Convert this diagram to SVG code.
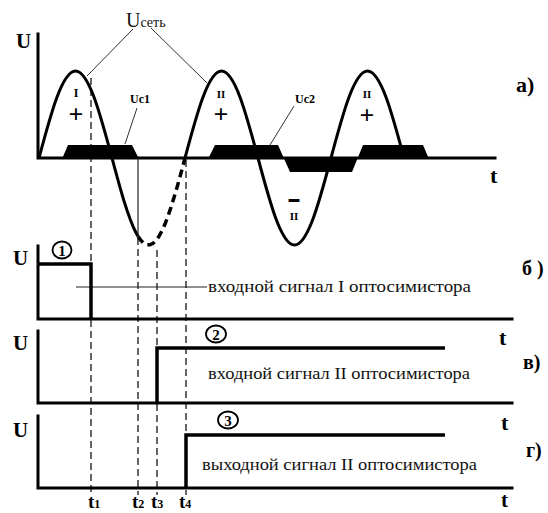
<svg xmlns="http://www.w3.org/2000/svg" width="548" height="513" viewBox="0 0 548 513">
<style>
.ax{fill:none;stroke:#000;stroke-width:3;stroke-linecap:square}
.sig{fill:none;stroke:#000;stroke-width:3.5;stroke-linejoin:miter}
.wave{fill:none;stroke:#000;stroke-width:3}
.dash{fill:none;stroke:#000;stroke-width:3.5;stroke-dasharray:8 5}
.vd{fill:none;stroke:#000;stroke-width:1.2;stroke-dasharray:7 4}
.thin{fill:none;stroke:#222;stroke-width:1.2}
.lead{fill:none;stroke:#333;stroke-width:1}
.band{fill:#000;stroke:none}
.b{font-family:"Liberation Serif","Times New Roman",serif;font-weight:bold;fill:#000}
.r{font-family:"Liberation Serif","Times New Roman",serif;fill:#111}
.circ{fill:none;stroke:#000;stroke-width:1.8}
</style>

<g id="panel-a">
  <path class="ax" d="M38,34 V158 H495"/>
  <text class="b" x="16" y="48" font-size="21">U</text>
  <text class="b" x="490" y="183" font-size="22">t</text>
  <text class="b" x="516" y="92" font-size="22">а)</text>
</g>

<g id="bands">
  <path class="band" d="M62,159 L68,145 L132,145 L139,159 Z"/>
  <path class="band" d="M208,159 L215,145 L278,145 L290,172 L352,172 L363,145 L423,145 L429,159 Z"/>
</g>

<g id="wave">
  <path class="wave" d="M39,158 C50.9,113.4 62.3,71 75.5,71 C88.7,71 100.1,113.4 112,158"/>
  <polyline class="wave" points="112,158 115,169.2 118,180.2 121,190.9 124,201 127,210.3 130,218.8 133,226.3 136,232.7 138,236.3"/>
  <polyline class="dash" points="138,236.3 141,240.5 144,243.4 147,244.8 150,244.8 153,243.4 156,240.5 159,236.3 162,230.7 165,224 168,216.1 171,207.3 174,197.6 177,187.4 180,176.7 183,165.5 185,158"/>
  <path class="wave" d="M185,158 C196.9,113.4 208.3,71 221.5,71 C234.7,71 246.1,113.4 258,158 C269.9,202.6 281.3,245 294.5,245 C307.7,245 319.1,202.6 331,158 C342.9,113.4 354.3,71 367.5,71 C380.7,71 392.1,113.4 404,158"/>
</g>

<g id="wave-labels">
  <text class="b" x="76" y="97" font-size="12" text-anchor="middle">I</text>
  <text class="b" x="76" y="123" font-size="26" text-anchor="middle">+</text>
  <text class="b" x="221" y="98" font-size="11" text-anchor="middle">II</text>
  <text class="b" x="221" y="123" font-size="26" text-anchor="middle">+</text>
  <text class="b" x="367" y="98" font-size="11" text-anchor="middle">II</text>
  <text class="b" x="367" y="124" font-size="26" text-anchor="middle">+</text>
  <text class="b" x="294" y="205" font-size="18" text-anchor="middle" stroke="#000" stroke-width="1.6">–</text>
  <text class="b" x="294" y="220" font-size="11" text-anchor="middle">II</text>
</g>

<g id="label-ucet">
  <text class="r" x="126" y="27" font-size="20" fill="#333">U<tspan font-size="14">сеть</tspan></text>
  <path class="lead" d="M133,29 L87,76 M151,28 L207,83"/>
</g>
<g id="label-uc1">
  <text class="b" x="130" y="103" font-size="12" fill="#222">Uc1</text>
  <path class="lead" d="M137,108 L125,144"/>
</g>
<g id="label-uc2">
  <text class="b" x="295" y="103" font-size="12" fill="#222">Uc2</text>
  <path class="lead" d="M294,106 L270,145"/>
</g>

<g id="connectors">
  <path class="vd" d="M91,78 V495"/>
  <path class="thin" d="M138,158 V238"/>
  <path class="vd" d="M138,238 V495"/>
  <path class="vd" d="M157,250 V495"/>
  <path class="vd" d="M186,160 V495"/>
  <path class="thin" d="M76,287 H207"/>
</g>

<g id="panel-b">
  <path class="ax" d="M38,246 V319 H512"/>
  <path class="sig" d="M38,264 H91 V319"/>
  <text class="b" x="13" y="265" font-size="21">U</text>
  <ellipse class="circ" cx="62" cy="250" rx="9.5" ry="8.5"/>
  <text class="b" x="62" y="255.5" font-size="15" text-anchor="middle">1</text>
  <text class="r" x="208" y="292" font-size="17" textLength="263" lengthAdjust="spacingAndGlyphs">входной сигнал I оптосимистора</text>
  <text class="b" x="499" y="345" font-size="22">t</text>
  <text class="b" x="522" y="275" font-size="20">б )</text>
</g>

<g id="panel-v">
  <path class="ax" d="M38,331 V403 H512"/>
  <path class="sig" d="M157,403 V348 H445"/>
  <text class="b" x="13" y="350" font-size="21">U</text>
  <ellipse class="circ" cx="216" cy="334" rx="10" ry="8.5"/>
  <text class="b" x="216" y="339.5" font-size="15" text-anchor="middle">2</text>
  <text class="r" x="208" y="379" font-size="17" textLength="262" lengthAdjust="spacingAndGlyphs">входной сигнал II оптосимистора</text>
  <text class="b" x="501" y="430" font-size="22">t</text>
  <text class="b" x="523" y="369" font-size="20">в)</text>
</g>

<g id="panel-g">
  <path class="ax" d="M38,416 V488 H512"/>
  <path class="sig" d="M186,488 V435 H445"/>
  <text class="b" x="13" y="437" font-size="21">U</text>
  <ellipse class="circ" cx="228" cy="420" rx="10" ry="8.5"/>
  <text class="b" x="228" y="425.5" font-size="15" text-anchor="middle">3</text>
  <text class="r" x="202" y="470" font-size="17" textLength="275" lengthAdjust="spacingAndGlyphs">выходной сигнал II оптосимистора</text>
  <text class="b" x="501" y="507" font-size="21">t</text>
  <text class="b" x="526" y="457" font-size="20">г)</text>
</g>

<g id="time-labels">
  <text class="b" x="88" y="508" font-size="19">t<tspan font-size="12">1</tspan></text>
  <text class="b" x="132" y="508" font-size="19">t<tspan font-size="12">2</tspan></text>
  <text class="b" x="151" y="508" font-size="19">t<tspan font-size="12">3</tspan></text>
  <text class="b" x="179" y="508" font-size="19">t<tspan font-size="12">4</tspan></text>
</g>
</svg>
